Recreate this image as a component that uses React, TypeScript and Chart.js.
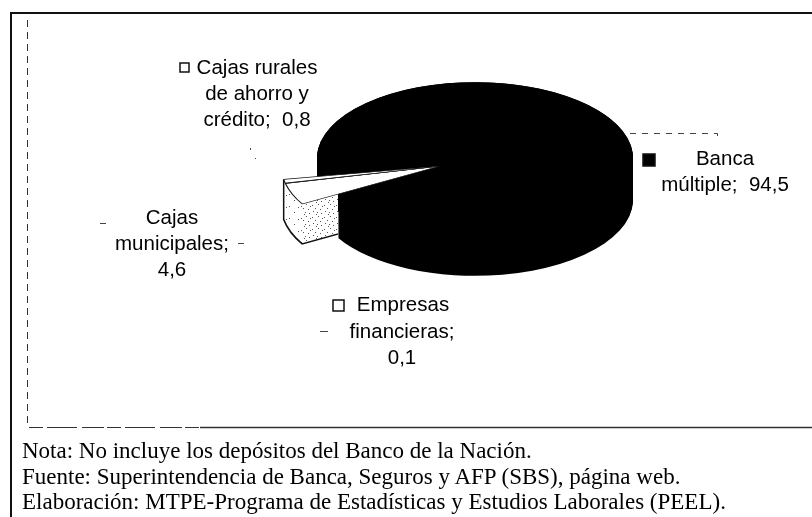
import React, { useEffect, useRef } from "react";
import { Chart, registerables } from "chart.js";

Chart.register(...registerables);

const categories = ["Banca múltiple", "Cajas municipales", "Empresas financieras", "Cajas rurales de ahorro y crédito"];
const seriesValues = [94.5, 4.6, 0.1, 0.8];
const sliceColors = ["#000000", "#ffffff", "#ffffff", "#ffffff"];
const sliceExplode = [0, 38, 38, 38];

const labelLines = [
  { lines: ["Banca", "múltiple;  94,5"], cx: [725, 725], y: [159, 185] },
  { lines: ["Cajas", "municipales;", "4,6"], cx: [172, 172, 172], y: [218, 244, 270] },
  { lines: ["Empresas", "financieras;", "0,1"], cx: [403, 402, 402], y: [305, 332, 358] },
  { lines: ["Cajas rurales", "de ahorro y", "crédito;  0,8"], cx: [257, 257, 257], y: [68, 94, 120] },
];
const legendKeys = [
  { x: 643, y: 154, s: 12, fill: "#000000" },
  { x: 333, y: 300, s: 11, fill: "#ffffff" },
  { x: 180, y: 63, s: 9, fill: "#ffffff" },
];
const notes = [
  "Nota: No incluye los depósitos del Banco de la Nación.",
  "Fuente: Superintendencia de Banca, Seguros y AFP (SBS), página web.",
  "Elaboración: MTPE-Programa de Estadísticas y Estudios Laborales (PEEL).",
];

const SQUASH = 0.48;
const DEPTH = 42;
const EXPLODED_DEPTH = 40;
const EXPLODED_DROP = 2;
const CENTER_X = 475;
const CENTER_Y = 158;

const lightDots = [[1, 2], [6, 8], [10, 3]];
const denseDots = [[0, 1], [3, 4], [6, 0], [8, 5], [1, 7], [5, 8], [9, 9], [4, 10], [10, 2]];

function makePattern(ctx: CanvasRenderingContext2D, dots: number[][]) {
  const c = document.createElement("canvas");
  c.width = 12;
  c.height = 12;
  const g = c.getContext("2d")!;
  g.fillStyle = "#ffffff";
  g.fillRect(0, 0, 12, 12);
  g.fillStyle = "#555555";
  dots.forEach(([x, y]) => g.fillRect(x, y, 1, 1));
  return ctx.createPattern(c, "repeat")!;
}

const pie3d = {
  id: "pie3d",
  beforeDatasetDraw(chart: any) {
    const ctx: CanvasRenderingContext2D = chart.ctx;
    const arcs = chart.getDatasetMeta(0).data;
    const banca = arcs[0];

    // body of the large slice
    ctx.save();
    ctx.fillStyle = "#000000";
    for (let d = DEPTH; d >= 0; d -= 1) {
      ctx.beginPath();
      ctx.moveTo(banca.x, banca.y + d);
      ctx.ellipse(banca.x, banca.y + d, banca.outerRadius, banca.outerRadius * SQUASH, 0, banca.startAngle, banca.endAngle);
      ctx.closePath();
      ctx.fill();
    }
    ctx.restore();

    // body of the pulled-out slices, stopped at the edge of the large slice
    const edgeX = banca.x + Math.cos(banca.endAngle) * banca.outerRadius;
    const first = arcs[1];
    const last = arcs[3];
    const mid = (first.startAngle + last.endAngle) / 2;
    const cx = banca.x + Math.cos(mid) * sliceExplode[1];
    const cy = banca.y + Math.sin(mid) * sliceExplode[1] * SQUASH + EXPLODED_DROP;
    const R = first.outerRadius;
    const ry = R * SQUASH;

    ctx.save();
    ctx.beginPath();
    ctx.rect(0, 0, edgeX, chart.height);
    ctx.clip();

    ctx.fillStyle = makePattern(ctx, lightDots);
    for (let d = EXPLODED_DEPTH; d >= 0; d -= 1) {
      ctx.beginPath();
      ctx.moveTo(cx, cy + d);
      ctx.ellipse(cx, cy + d, R, ry, 0, first.startAngle, last.endAngle);
      ctx.closePath();
      ctx.fill();
    }
    const qx = cx + Math.cos(first.startAngle) * R;
    const qy = cy + Math.sin(first.startAngle) * ry;
    ctx.fillStyle = makePattern(ctx, denseDots);
    ctx.beginPath();
    ctx.moveTo(qx, qy);
    ctx.lineTo(cx, cy);
    ctx.lineTo(cx, cy + EXPLODED_DEPTH);
    ctx.lineTo(qx, qy + EXPLODED_DEPTH);
    ctx.closePath();
    ctx.fill();

    ctx.strokeStyle = "#111111";
    ctx.lineWidth = 1.5;
    ctx.beginPath();
    ctx.moveTo(cx, cy + EXPLODED_DEPTH);
    ctx.lineTo(qx, qy + EXPLODED_DEPTH);
    ctx.ellipse(cx, cy + EXPLODED_DEPTH, R, ry, 0, first.startAngle, last.endAngle);
    ctx.lineTo(cx + Math.cos(last.endAngle) * R, cy + Math.sin(last.endAngle) * ry);
    ctx.stroke();
    ctx.restore();

    // top faces: the chart's own arcs, flattened, the small ones pulled out
    ctx.save();
    ctx.translate(0, banca.y);
    ctx.scale(1, SQUASH);
    ctx.translate(0, -banca.y);
    arcs.forEach((arc: any, i: number) => {
      ctx.save();
      const drop = sliceExplode[i] ? EXPLODED_DROP / SQUASH : 0;
      ctx.translate(Math.cos(mid) * sliceExplode[i], Math.sin(mid) * sliceExplode[i] + drop);
      arc.draw(ctx, chart.chartArea);
      ctx.restore();
    });
    ctx.restore();
    return false;
  },
  afterDraw(chart: any) {
    const ctx: CanvasRenderingContext2D = chart.ctx;
    ctx.save();

    // frame
    ctx.strokeStyle = "#111111";
    ctx.lineWidth = 2;
    ctx.beginPath();
    ctx.moveTo(812, 13);
    ctx.lineTo(11, 13);
    ctx.lineTo(11, 517);
    ctx.stroke();

    ctx.lineWidth = 1;
    ctx.strokeStyle = "#333333";
    ctx.setLineDash([7, 5]);
    ctx.beginPath();
    ctx.moveTo(27.5, 20);
    ctx.lineTo(27.5, 425);
    ctx.stroke();
    ctx.setLineDash([14, 4, 30, 5, 22, 3]);
    ctx.lineWidth = 1.2;
    ctx.beginPath();
    ctx.moveTo(29, 427.5);
    ctx.lineTo(200, 427.5);
    ctx.stroke();
    ctx.setLineDash([]);
    ctx.lineWidth = 1.6;
    ctx.beginPath();
    ctx.moveTo(200, 427.5);
    ctx.lineTo(812, 427.5);
    ctx.stroke();

    // leader of the large slice
    ctx.lineWidth = 1;
    ctx.strokeStyle = "#444444";
    ctx.setLineDash([6, 6]);
    ctx.beginPath();
    ctx.moveTo(630, 133.5);
    ctx.lineTo(717.5, 133.5);
    ctx.lineTo(717.5, 142);
    ctx.stroke();
    ctx.setLineDash([]);

    // leftover leader fragments
    ctx.fillStyle = "#444444";
    ctx.fillRect(100, 223, 6, 1);
    ctx.fillRect(238, 243, 6, 1);
    ctx.fillRect(320, 331, 8, 1);
    ctx.fillRect(250, 148, 1, 2);
    ctx.fillRect(255, 158, 1, 1);

    // value labels
    ctx.fillStyle = "#000000";
    ctx.font = '20.5px "Liberation Sans"';
    ctx.textAlign = "center";
    ctx.textBaseline = "middle";
    labelLines.forEach((l) =>
      l.lines.forEach((t, i) => ctx.fillText(t, l.cx[i], l.y[i]))
    );

    // legend keys
    ctx.strokeStyle = "#111111";
    ctx.lineWidth = 1.5;
    legendKeys.forEach((k) => {
      ctx.fillStyle = k.fill;
      ctx.fillRect(k.x, k.y, k.s, k.s);
      ctx.strokeRect(k.x, k.y, k.s, k.s);
    });
    ctx.restore();
  },
};

export default function App() {
  const ref = useRef<HTMLCanvasElement>(null);
  useEffect(() => {
    document.body.style.margin = "0";
    const chart = new Chart(ref.current!, {
      type: "pie",
      data: {
        labels: categories,
        datasets: [
          {
            data: seriesValues,
            backgroundColor: sliceColors,
            borderColor: "#111111",
            borderWidth: [0, 1.2, 1.2, 1.2],
            clip: false,
          } as any,
        ],
      },
      options: {
        responsive: false,
        animation: false,
        radius: 158,
        rotation: 260,
        layout: {
          padding: {
            left: Math.max(0, 2 * CENTER_X - 812),
            top: 0,
            bottom: Math.max(0, 517 - 2 * CENTER_Y),
          },
        },
        plugins: { legend: { display: false }, tooltip: { enabled: false }, title: { display: false } },
      } as any,
      plugins: [pie3d as any],
    });
    return () => chart.destroy();
  }, []);
  return (
    <div style={{ position: "relative", width: 812, height: 517, background: "#ffffff", overflow: "hidden" }}>
      <canvas ref={ref} width={812} height={517} style={{ display: "block" }} />
      <div
        style={{
          position: "absolute",
          left: 22,
          top: 438,
          fontFamily: '"Liberation Serif"',
          fontSize: 23,
          lineHeight: "25.5px",
          color: "#000000",
          whiteSpace: "nowrap",
        }}
      >
        {notes.map((n) => (
          <div key={n}>{n}</div>
        ))}
      </div>
    </div>
  );
}
